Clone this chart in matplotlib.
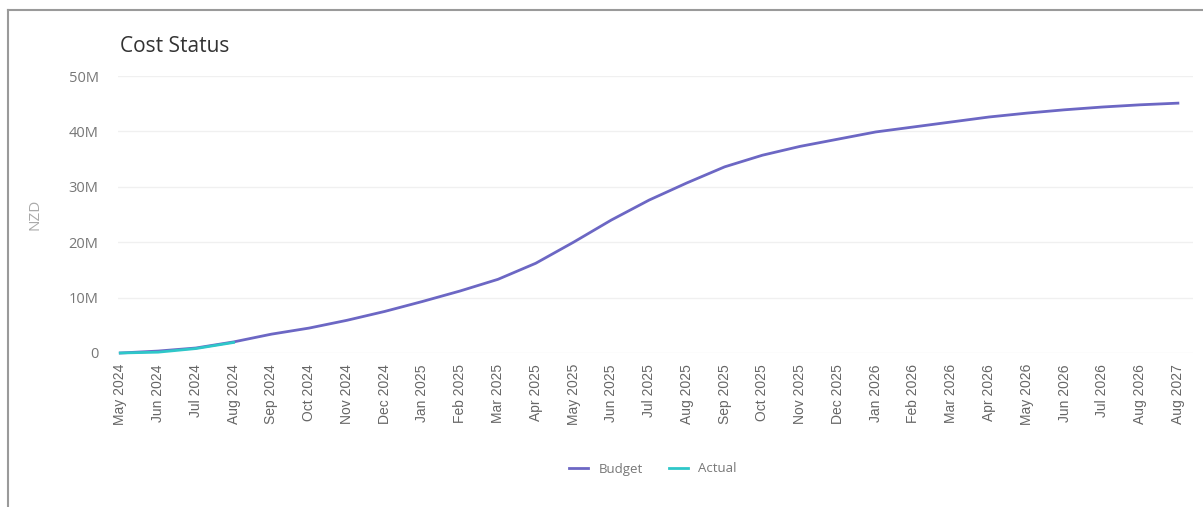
import numpy as np
import matplotlib.pyplot as plt

# month labels (last one really says Aug 2027 in the source)
months = ['May 2024', 'Jun 2024', 'Jul 2024', 'Aug 2024', 'Sep 2024', 'Oct 2024',
          'Nov 2024', 'Dec 2024', 'Jan 2025', 'Feb 2025', 'Mar 2025', 'Apr 2025',
          'May 2025', 'Jun 2025', 'Jul 2025', 'Aug 2025', 'Sep 2025', 'Oct 2025',
          'Nov 2025', 'Dec 2025', 'Jan 2026', 'Feb 2026', 'Mar 2026', 'Apr 2026',
          'May 2026', 'Jun 2026', 'Jul 2026', 'Aug 2026', 'Aug 2027']

# cumulative cost, millions NZD
budget = [0.0, 0.35, 0.9, 2.0, 3.4, 4.5, 5.9, 7.5, 9.3, 11.2, 13.3, 16.2,
          20.0, 24.0, 27.6, 30.7, 33.6, 35.7, 37.3, 38.6, 39.9, 40.8, 41.7,
          42.6, 43.3, 43.9, 44.4, 44.8, 45.1]
actual = [0.0, 0.15, 0.8, 1.9]

budget_color = '#6c67c4'
actual_color = '#2ec7c9'

fig = plt.figure(figsize=(12.03, 5.07), dpi=100)
ax = fig.add_axes([118 / 1203, 1 - 353 / 507, (1193 - 118) / 1203, (353 - 76) / 507])

x = np.arange(len(months))
ax.plot(x, np.array(budget) * 1e6, color=budget_color, lw=2, label='Budget', clip_on=False, zorder=3)
ax.plot(x[:len(actual)], np.array(actual) * 1e6, color=actual_color, lw=2, label='Actual',
        clip_on=False, zorder=4)

ax.set_ylim(0, 50e6)
ax.set_xlim(-0.06, 28.4)
ax.set_yticks(np.arange(0, 51e6, 10e6))
ax.set_yticklabels(['0', '10M', '20M', '30M', '40M', '50M'], fontfamily='Open Sans',
                   fontsize=10.5, color='#777777')
ax.set_xticks(x)
ax.set_xticklabels(months, rotation=90, fontfamily='Liberation Sans', fontsize=10, color='#666666')
ax.tick_params(axis='both', length=0)
ax.tick_params(axis='y', pad=14)
ax.tick_params(axis='x', pad=8)
ax.grid(axis='y', color='#f0f0f0', lw=1)
ax.set_axisbelow(True)
for s in ax.spines.values():
    s.set_visible(False)

fig.text(35 / 1203, 1 - 214 / 507, 'NZD', rotation=90, ha='center', va='center',
         fontfamily='Open Sans', fontsize=11, color='#aaaaaa')
fig.text(120 / 1203, 1 - 47 / 507, 'Cost Status', ha='left', va='center',
         fontfamily='Open Sans', fontsize=15, color='#333333')

fig.legend(loc='center', bbox_to_anchor=(653 / 1203, 1 - 469 / 507), ncol=2, frameon=False,
           handlelength=1.4, columnspacing=2.0, prop={'family': 'Open Sans', 'size': 9.5},
           labelcolor='#777777')

# grey card border (only top and left edges visible in the crop)
fig.add_artist(plt.Line2D([8 / 1203, 8 / 1203], [0, 1 - 10 / 507], color='#9a9a9a', lw=1.5))
fig.add_artist(plt.Line2D([8 / 1203, 1], [1 - 10 / 507, 1 - 10 / 507], color='#9a9a9a', lw=1.5))

fig.savefig('out.png', dpi=100)
